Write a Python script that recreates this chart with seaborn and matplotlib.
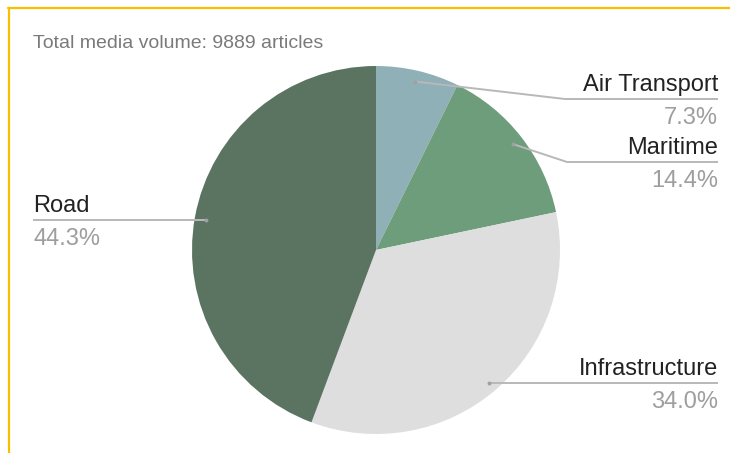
import matplotlib
matplotlib.use("Agg")
import matplotlib.pyplot as plt
import seaborn as sns
import numpy as np
from matplotlib.lines import Line2D

# ---- data ----
categories = ["Air Transport", "Maritime", "Infrastructure", "Road"]
shares = [7.3, 14.4, 34.0, 44.3]
pct_labels = ["7.3%", "14.4%", "34.0%", "44.3%"]
colors = ["#8FB0B6", "#6E9D7B", "#DEDEDE", "#5B7462"]
title_text = "Total media volume: 9889 articles"

sns.set_theme(style="white")
plt.rcParams["font.family"] = ["Liberation Sans", "DejaVu Sans"]

W, H = 730, 453
fig = plt.figure(figsize=(W / 100, H / 100), dpi=100)
ax = fig.add_axes([0, 0, 1, 1])

cx, cy, R = 376, H - 250, 184
wedges, _ = ax.pie(shares, colors=colors, startangle=90, counterclock=False,
                   center=(cx, cy), radius=R,
                   wedgeprops=dict(linewidth=0, antialiased=True))
ax.set_xlim(0, W)
ax.set_ylim(0, H)
ax.set_aspect("equal")
ax.axis("off")

# label layout (pixel positions from top-left): side, line y, elbow x
layout = {
    "Air Transport": ("right", 99, 565),
    "Maritime": ("right", 162, 567),
    "Infrastructure": ("right", 383, None),
    "Road": ("left", 220, None),
}
line_col = "#B8B8B8"
lab_col = "#222222"
pct_col = "#9E9E9E"
fs = 17
for w, cat, pct in zip(wedges, categories, pct_labels):
    th = np.deg2rad((w.theta1 + w.theta2) / 2)
    ax_x = cx + 0.94 * R * np.cos(th)
    ax_y = cy + 0.94 * R * np.sin(th)
    side, ly, ex = layout[cat]
    ly = H - ly
    if ex is None:
        ax_y = ly
    xe = 718 if side == "right" else 33
    ha = "right" if side == "right" else "left"
    xs = [ax_x] + ([ex] if ex else []) + [xe]
    ys = [ax_y] + ([ly] if ex else []) + [ly]
    ax.plot(xs, ys, color=line_col, lw=1.4, solid_capstyle="butt", zorder=3)
    ax.plot([ax_x], [ax_y], "o", color="#A0A0A0", ms=2.8, mec="none", zorder=4)
    ax.text(xe, ly + 3, cat, ha=ha, va="bottom", fontsize=fs, color=lab_col)
    ax.text(xe, ly - 8, pct, ha=ha, va="top", fontsize=fs, color=pct_col)

ax.text(33, H - 44, title_text, ha="left", va="center", fontsize=14,
        color="#7A7A7A")

# yellow frame (top and left edges)
ycol = "#F6C000"
fig.add_artist(Line2D([8 / W, 1], [1 - 7.5 / H, 1 - 7.5 / H],
                      transform=fig.transFigure, color=ycol, lw=1.6))
fig.add_artist(Line2D([8.5 / W, 8.5 / W], [0, 1 - 7.5 / H],
                      transform=fig.transFigure, color=ycol, lw=1.6))

fig.savefig("out.png", dpi=100)
